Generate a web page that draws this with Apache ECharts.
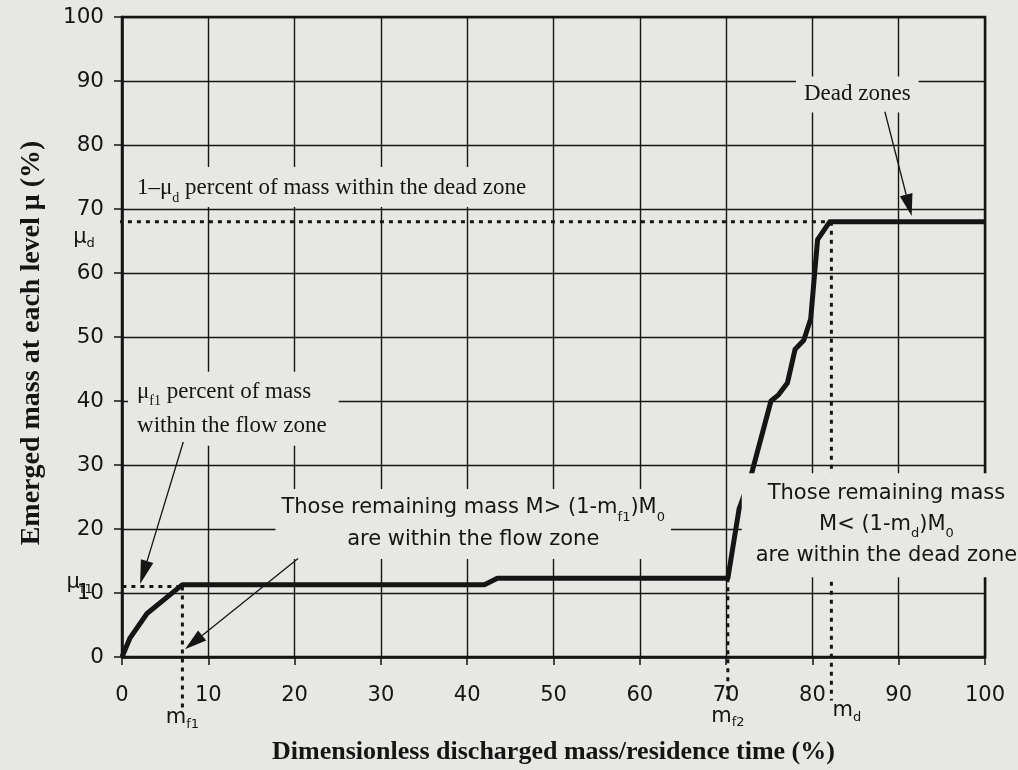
<!DOCTYPE html>
<html>
<head>
<meta charset="utf-8">
<script src="https://cdn.jsdelivr.net/npm/echarts@6/dist/echarts.min.js"></script>
<style>
  html, body { margin: 0; padding: 0; background: #e7e7e4; }
  #chart { width: 1018px; height: 770px; }
</style>
</head>
<body>
<div id="chart"></div>
<script>
// Cumulative emerged mass versus dimensionless discharged mass (%)
const massX = [0, 0.9, 2.9, 7.0, 42.0, 43.5, 70.2, 71.5, 72.9, 75.2, 76.1, 77.1, 78.0, 79.0, 79.8, 80.6, 82.0, 100];
const massY = [0, 2.9, 6.8, 11.3, 11.3, 12.3, 12.3, 23.1, 28.4, 40.0, 41.0, 42.8, 48.1, 49.5, 52.8, 65.2, 68.0, 68.0];

// Axis tick labels
const xTickLabels = ['0', '10', '20', '30', '40', '50', '60', '70', '80', '90', '100'];
const yTickLabels = ['0', '10', '20', '30', '40', '50', '60', '70', '80', '90', '100'];

// Characteristic levels of the discharge
const muF1 = 11.0;   // mass fraction within the flow zone
const mF1 = 7.0;     // end of the flow-zone discharge
const mF2 = 70.2;    // onset of dead-zone discharge
const muD = 68.0;    // level reached at the dead zone
const mD = 82.2;     // end of the dead-zone discharge

const PAPER = '#e7e7e4';
const INK = '#151515';
const SANS = '"DejaVu Sans", "Liberation Sans", sans-serif';
const SERIF = '"Liberation Serif", "DejaVu Serif", serif';

const chart = echarts.init(document.getElementById('chart'));

const dotted = (pts) => ({
  type: 'line',
  data: pts,
  symbol: 'none',
  clip: false,
  silent: true,
  z: 4,
  lineStyle: { color: INK, width: 3, type: [4, 5] }
});

const option = {
  backgroundColor: PAPER,
  animation: false,
  grid: {
    left: 122, right: 33, top: 17, bottom: 111,
    show: true, borderColor: INK, borderWidth: 2.5
  },
  xAxis: {
    type: 'value', min: 0, max: 100, interval: 10,
    name: 'Dimensionless discharged mass/residence time (%)',
    nameLocation: 'middle', nameGap: 82,
    nameTextStyle: { fontFamily: SERIF, fontWeight: 'bold', fontSize: 26, color: INK },
    axisLine: { show: true, onZero: false, lineStyle: { color: INK, width: 2.5 } },
    axisTick: { show: true, length: 8, lineStyle: { color: INK, width: 1.5 } },
    axisLabel: {
      margin: 28, fontFamily: SANS, fontSize: 21, color: INK,
      formatter: (v) => xTickLabels[Math.round(v / 10)]
    },
    splitLine: { show: true, lineStyle: { color: INK, width: 1.4 } }
  },
  yAxis: {
    type: 'value', min: 0, max: 100, interval: 10,
    name: 'Emerged mass at each level \u03bc (%)',
    nameLocation: 'middle', nameGap: 76,
    nameTextStyle: { fontFamily: SERIF, fontWeight: 'bold', fontSize: 28, color: INK, padding: [0, 12, 0, 0] },
    axisLine: { show: true, onZero: false, lineStyle: { color: INK, width: 2.5 } },
    axisTick: { show: true, length: 8, lineStyle: { color: INK, width: 1.5 } },
    axisLabel: {
      margin: 18, fontFamily: SANS, fontSize: 21.5, color: INK,
      formatter: (v) => yTickLabels[Math.round(v / 10)]
    },
    splitLine: { show: true, lineStyle: { color: INK, width: 1.4 } }
  },
  series: [
    {
      type: 'line',
      name: 'emerged mass',
      data: massX.map((x, i) => [x, massY[i]]),
      symbol: 'none',
      z: 6,
      lineStyle: { color: INK, width: 5, join: 'round' }
    },
    dotted([[-8.3, muF1], [mF1, muF1]]),
    dotted([[mF1, muF1], [mF1, -8.6]]),
    dotted([[mF2, massY[6]], [mF2, -7.0]]),
    dotted([[-1.4, muD], [mD, muD]]),
    dotted([[mD, muD], [mD, -6.8]])
  ]
};

chart.setOption(option);

// Annotation layer anchored to data coordinates
const px = (x, y) => chart.convertToPixel({ gridIndex: 0 }, [x, y]);

function textBox(x, y, text, rich, align, vAlign, padding, lineHeight) {
  const p = px(x, y);
  return {
    type: 'text', x: p[0], y: p[1], z: 100, silent: true,
    style: {
      text, rich,
      align: align, verticalAlign: vAlign,
      backgroundColor: PAPER, padding, lineHeight
    }
  };
}

function arrow(from, to, headLen, headW) {
  const a = px(from[0], from[1]);
  const b = px(to[0], to[1]);
  const ang = Math.atan2(b[1] - a[1], b[0] - a[0]);
  const bx = b[0] - headLen * Math.cos(ang), by = b[1] - headLen * Math.sin(ang);
  const nx = -Math.sin(ang) * headW / 2, ny = Math.cos(ang) * headW / 2;
  return [
    { type: 'line', z: 110, silent: true,
      shape: { x1: a[0], y1: a[1], x2: bx, y2: by },
      style: { stroke: INK, lineWidth: 1.3 } },
    { type: 'polygon', z: 110, silent: true,
      shape: { points: [[b[0], b[1]], [bx + nx, by + ny], [bx - nx, by - ny]] },
      style: { fill: INK } }
  ];
}

const serifRich = {
  t: { fontFamily: SERIF, fontSize: 23, fill: INK, lineHeight: 34 },
  s: { fontFamily: SERIF, fontSize: 14, fill: INK, lineHeight: 23, verticalAlign: 'bottom' }
};
const sansRich = {
  t: { fontFamily: SANS, fontSize: 21, fill: INK, lineHeight: 32 },
  s: { fontFamily: SANS, fontSize: 13, fill: INK, lineHeight: 20, verticalAlign: 'bottom' }
};
const sansRich3 = {
  t: { fontFamily: SANS, fontSize: 21, fill: INK, lineHeight: 31 },
  s: { fontFamily: SANS, fontSize: 13, fill: INK, lineHeight: 19, verticalAlign: 'bottom' }
};
const labRich = {
  t: { fontFamily: SANS, fontSize: 21, fill: INK, lineHeight: 26 },
  s: { fontFamily: SANS, fontSize: 13, fill: INK, lineHeight: 18, verticalAlign: 'bottom' }
};

const graphics = [
  // dead zone share
  textBox(0.7, 70.3, '{t|1\u2013\u03bc}{s|d}{t| percent of mass within the dead zone}',
    serifRich, 'left', 'bottom', [4, 12, 2, 9], 34),
  // dead zones pointer
  textBox(85.2, 87.9, '{t|Dead zones}', serifRich, 'center', 'middle', [1, 8, 1, 8], 34),
  // flow zone share
  textBox(0.7, 38.8, '{t|\u03bc}{s|f1}{t| percent of mass}\n{t|within the flow zone}',
    serifRich, 'left', 'middle', [3, 12, 3, 9], 34),
  // remaining mass in flow zone
  textBox(40.7, 20.8, '{t|Those remaining mass M> (1-m}{s|f1}{t|)M}{s|0}\n{t|are within the flow zone}',
    sansRich, 'center', 'middle', [3, 6, 3, 6], 33),
  // remaining mass in dead zone
  textBox(88.0, 20.6, '{t|Those remaining mass}\n{t|M< (1-m}{s|d}{t|)M}{s|0}\n{t|are within the dead zone}',
    sansRich3, 'center', 'middle', [5, 4, 6, 14], 31),
  // level markers
  textBox(-4.9, 11.6, '{t|\u03bc}{s|f1}', labRich, 'center', 'middle', [0, 0, 0, 0], 26),
  textBox(-4.4, 65.6, '{t|\u03bc}{s|d}', labRich, 'center', 'middle', [0, 0, 0, 0], 26),
  textBox(mF1, -9.5, '{t|m}{s|f1}', labRich, 'center', 'middle', [0, 0, 0, 0], 26),
  textBox(mF2, -9.3, '{t|m}{s|f2}', labRich, 'center', 'middle', [0, 0, 0, 0], 26),
  textBox(84.0, -8.4, '{t|m}{s|d}', labRich, 'center', 'middle', [0, 0, 0, 0], 26)
];

// level markers sit over the axis area without masking it
for (let i = 5; i < graphics.length; i++) graphics[i].style.backgroundColor = 'transparent';

graphics.push(
  ...arrow([88.4, 85.2], [91.5, 68.9], 22, 13),
  ...arrow([7.1, 33.6], [2.1, 11.4], 24, 13),
  ...arrow([20.4, 15.4], [7.3, 1.2], 22, 13)
);

chart.setOption({ graphic: graphics });
</script>
</body>
</html>
